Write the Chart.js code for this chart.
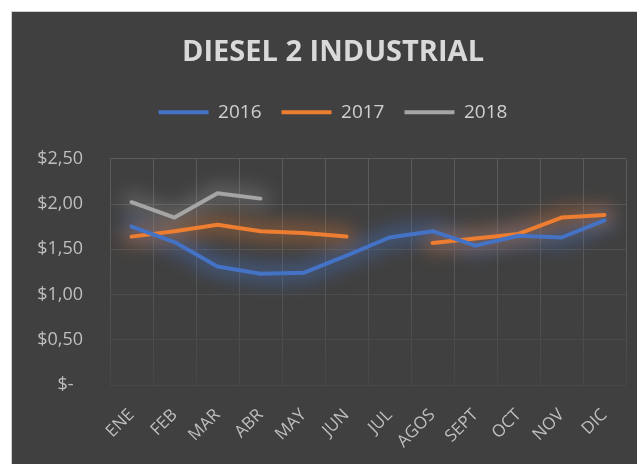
<!DOCTYPE html>
<html><head><meta charset="utf-8">
<script src="https://cdn.jsdelivr.net/npm/chart.js@4"></script>
<style>
html,body{margin:0;padding:0;background:#fff;overflow:hidden;width:637px;height:464px;}
#frame{position:absolute;left:11px;top:11px;width:626px;height:453px;background:#d0d0d0;}
#wrap{position:absolute;left:12px;top:12px;width:625px;height:452px;overflow:hidden;background:#404040;}
#c{position:absolute;left:0;top:0;}
</style></head><body>
<div id="frame"></div>
<div id="wrap"><canvas id="c" width="642" height="452"></canvas></div>
<script>
const titleText = 'DIESEL 2 INDUSTRIAL';
const months = ['ENE','FEB','MAR','ABR','MAY','JUN','JUL','AGOS','SEPT','OCT','NOV','DIC'];
const seriesNames = ['2016','2017','2018'];
const values2016 = [1.75, 1.58, 1.31, 1.23, 1.24, 1.43, 1.63, 1.70, 1.54, 1.65, 1.63, 1.82];
const values2017 = [1.64, 1.70, 1.77, 1.70, 1.68, 1.64, null, 1.57, 1.62, 1.67, 1.85, 1.88];
const values2018 = [2.02, 1.85, 2.12, 2.06, null, null, null, null, null, null, null, null];
const yTicks = [0, 0.5, 1, 1.5, 2, 2.5];

const colors = ['#4472c4', '#ed7d31', '#a5a5a5'];
const haloColors = ['rgba(68,114,196,0.42)', 'rgba(237,125,49,0.34)', 'rgba(200,200,200,0.22)'];

// soft halo behind each line, built from the library's own point positions
const glow = {
  id: 'glow',
  beforeDatasetsDraw(chart) {
    const ctx = chart.ctx;
    chart.data.datasets.forEach((ds, i) => {
      const meta = chart.getDatasetMeta(i);
      ctx.save();
      ctx.strokeStyle = haloColors[i];
      ctx.filter = 'blur(9px)';
      ctx.lineWidth = 20;
      ctx.lineCap = 'round';
      ctx.lineJoin = 'round';
      ctx.beginPath();
      let started = false;
      meta.data.forEach((pt, j) => {
        if (ds.data[j] === null || pt.skip) { started = false; return; }
        if (!started) { ctx.moveTo(pt.x, pt.y); started = true; }
        else ctx.lineTo(pt.x, pt.y);
      });
      ctx.stroke();
      ctx.restore();
    });
  }
};
const legendGap = {
  id: 'legendGap',
  beforeInit(chart) {
    const orig = chart.legend.fit;
    chart.legend.fit = function () { orig.call(this); this.height += 27; };
  }
};

function gridGradient(ctx) {
  const chart = ctx.chart;
  const a = chart.chartArea;
  if (!a) return '#5a5a5a';
  const g = chart.ctx.createLinearGradient(0, a.top, 0, a.bottom);
  g.addColorStop(0, '#5c5c5c');
  g.addColorStop(0.45, '#585858');
  g.addColorStop(1, '#464646');
  return g;
}
function yGridColor(ctx) {
  const v = ctx.tick ? ctx.tick.value : 0;
  const t = v / 2.5;
  const c = Math.round(0x48 + (0x5c - 0x48) * Math.pow(t, 1.5));
  return 'rgb(' + c + ',' + c + ',' + c + ')';
}

const datasets = [values2016, values2017, values2018].map((vals, i) => ({
  label: seriesNames[i],
  data: vals,
  borderColor: colors[i],
  backgroundColor: colors[i],
  borderWidth: 4,
  pointRadius: 0,
  pointHoverRadius: 0,
  tension: 0,
  spanGaps: false,
  borderCapStyle: 'round',
  borderJoinStyle: 'round',
  fill: false
}));

new Chart(document.getElementById('c'), {
  type: 'line',
  data: { labels: months, datasets },
  options: {
    responsive: false,
    animation: false,
    devicePixelRatio: 1,
    layout: { padding: 0 },
    plugins: {
      title: {
        display: true,
        text: titleText,
        color: '#d9d9d9',
        font: { family: 'Open Sans', size: 29, weight: 'bold' },
        padding: { top: 23.5, bottom: 12.5 }
      },
      legend: {
        display: true,
        position: 'top',
        labels: {
          color: '#d0d0d0',
          font: { family: 'Open Sans', size: 19 },
          boxWidth: 50,
          boxHeight: 4,
          padding: 20,
          generateLabels(chart) {
            const items = Chart.defaults.plugins.legend.labels.generateLabels(chart);
            items.forEach(it => { it.lineWidth = 0; it.fillStyle = it.strokeStyle; });
            return items;
          }
        }
      },
      tooltip: { enabled: false }
    },
    scales: {
      x: {
        offset: true,
        grid: { display: true, offset: true, drawTicks: false, color: gridGradient, lineWidth: 1 },
        border: { display: false },
        ticks: {
          color: '#bfbfbf',
          font: { family: 'Open Sans', size: 17 },
          maxRotation: 45, minRotation: 45,
          padding: 20,
          autoSkip: false
        },
        afterFit(scale) { scale.height = 79; }
      },
      y: {
        min: 0, max: 2.5,
        afterBuildTicks(scale) { scale.ticks = yTicks.map(v => ({ value: v })); },
        grid: { display: true, drawTicks: false, color: yGridColor, lineWidth: 1 },
        border: { display: false },
        ticks: {
          color: '#bfbfbf',
          font: { family: 'Open Sans', size: 18 },
          padding: 27,
          callback(v) { return v === 0 ? '$-  ' : '$' + v.toFixed(2).replace('.', ','); }
        },
        afterFit(scale) { scale.width = 98; }
      },
      yRight: {
        position: 'right',
        display: true,
        min: 0, max: 2.5,
        grid: { display: false, drawTicks: false },
        border: { display: false },
        ticks: { display: false },
        afterFit(scale) { scale.width = 28; }
      }
    }
  },
  plugins: [glow, legendGap]
});
</script>
</body></html>
